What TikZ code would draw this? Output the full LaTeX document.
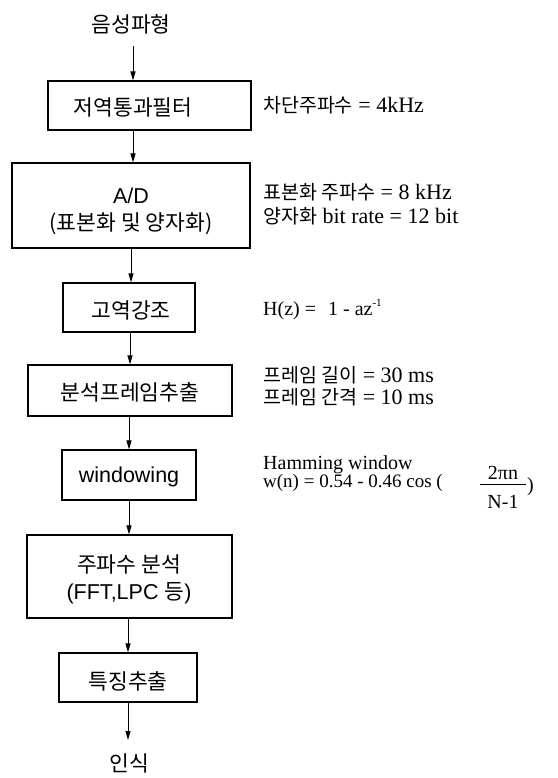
\documentclass[tikz,border=0pt]{standalone}
\usepackage{fontspec}
\setmainfont{Liberation Serif}
\newfontfamily\kr{Noto Sans CJK KR}
\newfontfamily\hv{Liberation Sans}
\usetikzlibrary{arrows.meta}
\newcommand{\krr}[1]{{\kr\fontsize{19.5}{24}\selectfont #1}}
\newcommand{\lat}[1]{{\fontsize{22}{24}\selectfont #1}}
\tikzset{
  box/.style={draw, line width=1.1pt, inner sep=0pt},
  arr/.style={line width=1pt, -{Triangle[length=9pt,width=5pt]}},
  btxt/.style={font=\kr\fontsize{21.5}{26}\selectfont, inner sep=0pt},
  rtxt/.style={font=\fontsize{20}{24}\selectfont, anchor=base west, inner sep=0pt},
  ftxt/.style={font=\fontsize{20}{24}\selectfont, anchor=base, inner sep=0pt},
}
\begin{document}
\begin{tikzpicture}[x=1pt,y=-1pt]
\useasboundingbox (0,0) rectangle (557,778);
\fill[white] (0,0) rectangle (557,778);

% boxes
\node[box, minimum width=203pt, minimum height=49pt] (b1) at (149.5,105.5) {};
\node[box, minimum width=238pt, minimum height=85pt] (b2) at (131,205.5) {};
\node[box, minimum width=132pt, minimum height=49pt] (b3) at (129,307.5) {};
\node[box, minimum width=204pt, minimum height=51pt] (b4) at (130,390.5) {};
\node[box, minimum width=134pt, minimum height=50pt] (b5) at (129,475) {};
\node[box, minimum width=205pt, minimum height=83pt] (b6) at (129.5,576.5) {};
\node[box, minimum width=138pt, minimum height=49pt] (b7) at (128,677.5) {};

% texts in column
\node[btxt] (l0) at (131,24) {음성파형};
\node[btxt] (l1) at (133,107) {저역통과필터};
\node[btxt] (l2a) at (131,196) {\hv A/D};
\node[btxt] (l2b) at (131,224) {(표본화 및 양자화)};
\node[btxt] (l3) at (131,310) {고역강조};
\node[btxt] (l4) at (130,392) {분석프레임추출};
\node[btxt] (l5) at (129,477) {\hv windowing};
\node[btxt] (l6a) at (129,564) {주파수 분석};
\node[btxt] (l6b) at (129,593) {{\hv (FFT,LPC }등{\hv )}};
\node[btxt] (l7) at (128,681) {특징추출};
\node[btxt] (l8) at (129,763) {인식};

% arrows
\coordinate (s0) at (133,46);
\coordinate (x1) at (133,0);
\coordinate (x2) at (131,0);
\coordinate (x3) at (130,0);
\coordinate (x4) at (129,0);
\coordinate (x5) at (129,0);
\coordinate (x6) at (128,0);
\coordinate (e7) at (128,740);
\draw[arr] (s0) -- (b1.north -| s0);
\draw[arr] (b1.south -| x1) -- (b2.north -| x1);
\draw[arr] (b2.south -| x2) -- (b3.north -| x2);
\draw[arr] (b3.south -| x3) -- (b4.north -| x3);
\draw[arr] (b4.south -| x4) -- (b5.north -| x4);
\draw[arr] (b5.south -| x5) -- (b6.north -| x5);
\draw[arr] (b6.south -| x6) -- (b7.north -| x6);
\draw[arr] (b7.south -| e7) -- (e7);

% right-hand notes
\node[rtxt] (r1) at (263,113) {\krr{차단주파수}\lat{ = 4kHz}};
\node[rtxt] (r2a) at (263,199) {\krr{표본화 주파수}\lat{ = 8 kHz}};
\node[rtxt] (r2b) at (263,223) {\krr{양자화}\lat{ bit rate = 12 bit}};
\node[rtxt] (r3) at (263,315) {H(z) =\hspace{0.6em}1 - az\raisebox{0.45em}{\fontsize{11}{11}\selectfont -1}};
\node[rtxt] (r4a) at (263,382) {\krr{프레임 길이}\lat{ = 30 ms}};
\node[rtxt] (r4b) at (263,404) {\krr{프레임 간격}\lat{ = 10 ms}};
\node[rtxt] (r5a) at (263,469) {Hamming window};
\node[rtxt, font=\fontsize{19}{22}\selectfont] (r5b) at (263,487) {w(n) = 0.54 - 0.46 cos (};
\node[ftxt] (fnum) at (503,479) {2πn};
\node[fill=black, inner sep=0pt, minimum width=46pt, minimum height=0.8pt] (fbar) at (503,484) {};
\node[ftxt] (fden) at (503,508) {N-1};
\node[rtxt] (fcl) at (527,491) {)};
\end{tikzpicture}
\end{document}
